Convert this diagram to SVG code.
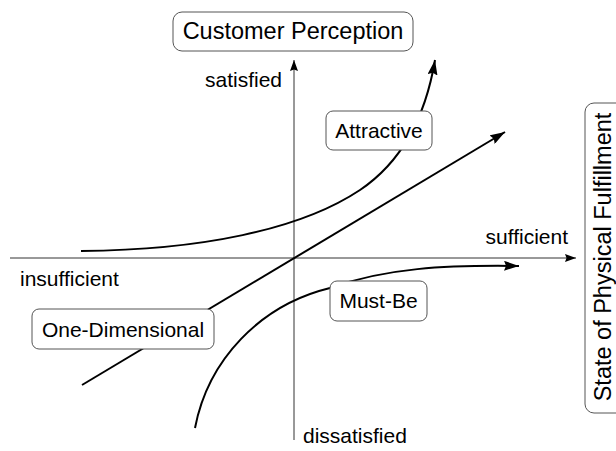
<svg xmlns="http://www.w3.org/2000/svg" width="616" height="451" viewBox="0 0 616 451">
<style>
.box{fill:#fff;stroke:#555;stroke-width:1}
.t{font-family:"Liberation Sans",Arial,sans-serif;font-size:21px;fill:#000}
.tb{font-family:"Liberation Sans",Arial,sans-serif;font-size:23.5px;fill:#000}
.axis{fill:none;stroke:#333;stroke-width:1}
.curve{fill:none;stroke:#000;stroke-width:2}
</style>
<defs>
<marker id="ah" markerUnits="userSpaceOnUse" markerWidth="16" markerHeight="10" refX="15" refY="5" orient="auto">
<path d="M0,0 L15,5 L0,10 L2,5 z" fill="#000"/>
</marker>
<marker id="aa" markerUnits="userSpaceOnUse" markerWidth="11" markerHeight="8" refX="11" refY="4" orient="auto">
<path d="M0,0 L11,4 L0,8 L1.5,4 z" fill="#000"/>
</marker>
</defs>
<g id="connectors">
<line class="axis" x1="10" y1="258" x2="576" y2="258" marker-end="url(#aa)"/>
<line class="axis" x1="294" y1="440" x2="294" y2="60" marker-end="url(#aa)"/>
<path class="curve" d="M81,251 C200,250 300,230 360,190 C400,163 425,120 435,60" marker-end="url(#ah)"/>
<line class="curve" x1="82" y1="385" x2="505" y2="132" marker-end="url(#ah)"/>
<path class="curve" d="M195,428 C208,360 260,305 330,288 C385,268 445,265 519,266" marker-end="url(#ah)"/>
</g>
<g id="customer-perception">
<rect class="box" x="173" y="12" width="240" height="39" rx="9"/>
<text class="tb" x="293" y="39" text-anchor="middle">Customer Perception</text>
</g>
<g id="physical-fulfillment">
<rect class="box" x="585" y="103" width="42" height="310" rx="9"/>
<text class="tb" transform="translate(610.5,257) rotate(-90)" text-anchor="middle">State of Physical Fulfillment</text>
</g>
<g id="attractive">
<rect class="box" x="326" y="111" width="106" height="39" rx="7"/>
<text class="t" x="379" y="138" text-anchor="middle">Attractive</text>
</g>
<g id="one-dimensional">
<rect class="box" x="32" y="309" width="182" height="40" rx="7"/>
<text class="t" x="123" y="337" text-anchor="middle">One-Dimensional</text>
</g>
<g id="must-be">
<rect class="box" x="330" y="281" width="97" height="40" rx="7"/>
<text class="t" x="378.5" y="308" text-anchor="middle">Must-Be</text>
</g>
<g id="labels">
<text class="t" x="282" y="87" text-anchor="end">satisfied</text>
<text class="t" x="568" y="244" text-anchor="end">sufficient</text>
<text class="t" x="20" y="286">insufficient</text>
<text class="t" x="303" y="443">dissatisfied</text>
</g>
</svg>
